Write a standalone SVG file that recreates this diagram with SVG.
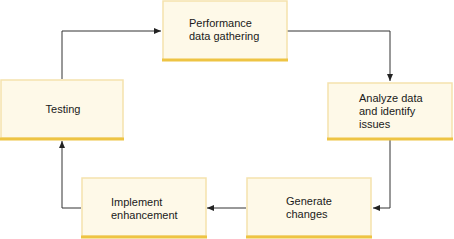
<svg xmlns="http://www.w3.org/2000/svg" width="454" height="239" viewBox="0 0 454 239">
<defs>
<marker id="ah" markerWidth="8" markerHeight="8" refX="7" refY="4" orient="auto" markerUnits="userSpaceOnUse">
<path d="M0,1 L7,4 L0,7 Z" fill="#222"/>
</marker>
<style>
.box{fill:#fef9e8;stroke:#f5e2ad;stroke-width:1.5}
.bot{stroke:#eec443;stroke-width:3}
.t{font-family:"Liberation Sans",Arial,sans-serif;font-size:11px;fill:#1a1a1a}
.c{fill:none;stroke:#333;stroke-width:1}
</style>
</defs>
<g id="connectors">
<path class="c" d="M62,79 V31 H161" marker-end="url(#ah)"/>
<path class="c" d="M287,31 H390 V81" marker-end="url(#ah)"/>
<path class="c" d="M390,140 V208 H373" marker-end="url(#ah)"/>
<path class="c" d="M246,208 H207" marker-end="url(#ah)"/>
<path class="c" d="M81,208 H62 V141" marker-end="url(#ah)"/>
</g>
<g id="performance">
<rect class="box" x="163" y="1" width="124" height="59"/>
<line class="bot" x1="162" y1="60" x2="288" y2="60"/>
<text class="t" x="189" y="27">Performance</text>
<text class="t" x="189" y="40">data gathering</text>
</g>
<g id="analyze">
<rect class="box" x="328" y="83" width="124" height="56"/>
<line class="bot" x1="327" y1="139" x2="453" y2="139"/>
<text class="t" x="359" y="102">Analyze data</text>
<text class="t" x="359" y="115">and identify</text>
<text class="t" x="359" y="128">issues</text>
</g>
<g id="testing">
<rect class="box" x="1" y="80" width="122" height="58"/>
<line class="bot" x1="0" y1="139" x2="124" y2="139"/>
<text class="t" x="63" y="113" text-anchor="middle">Testing</text>
</g>
<g id="implement">
<rect class="box" x="82" y="178" width="124" height="58"/>
<line class="bot" x1="81" y1="237" x2="207" y2="237"/>
<text class="t" x="111" y="206">Implement</text>
<text class="t" x="111" y="219">enhancement</text>
</g>
<g id="generate">
<rect class="box" x="247" y="178" width="124" height="58"/>
<line class="bot" x1="246" y1="237" x2="372" y2="237"/>
<text class="t" x="286" y="205">Generate</text>
<text class="t" x="286" y="218">changes</text>
</g>
</svg>
